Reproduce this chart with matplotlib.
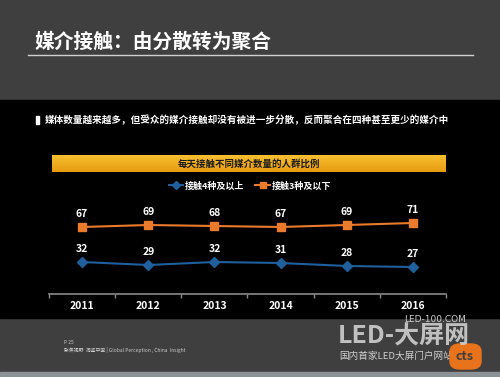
import matplotlib.pyplot as plt
from matplotlib.patches import Rectangle, FancyBboxPatch
from matplotlib.colors import LinearSegmentedColormap
import numpy as np

plt.rcParams['font.family'] = ['Noto Sans CJK SC', 'DejaVu Sans']

years = ['2011', '2012', '2013', '2014', '2015', '2016']
four_plus = [32, 29, 32, 31, 28, 27]
three_less = [67, 69, 68, 67, 69, 71]
series_names = ['接触4种及以上', '接触3种及以下']

W, H = 500, 377


def fx(px):
    return px / W


def fy(py):
    return 1 - py / H


fig = plt.figure(figsize=(5, 3.77), dpi=100)
fig.patch.set_facecolor('#3f3f3f')

# background bands
fig.add_artist(Rectangle((0, fy(318)), 1, fy(100) - fy(318),
                         transform=fig.transFigure, color='black', zorder=0))
fig.add_artist(Rectangle((0, 0), 1, fy(372),
                         transform=fig.transFigure, color='#8c9396', zorder=0))

# title
fig.text(fx(35), fy(42), '媒介接触：由分散转为聚合', color='white',
         fontsize=14.2, fontweight='bold', va='center', ha='left')
fig.add_artist(plt.Line2D([fx(28), fx(473)], [fy(55), fy(55)],
                          transform=fig.transFigure, color='#d0d0d0', lw=1))

# subtitle
fig.add_artist(Rectangle((fx(36), fy(124)), fx(2.5), fy(116) - fy(124),
                         transform=fig.transFigure, color='white'))
fig.text(fx(45), fy(120),
         '媒体数量越来越多，但受众的媒介接触却没有被进一步分散，反而聚合在四种甚至更少的媒介中',
         color='white', fontsize=6.9, fontweight='bold', va='center', ha='left')

# gold banner with gradient
grad = LinearSegmentedColormap.from_list('g', ['#f7c232', '#e89a10'])
bax = fig.add_axes([fx(52), fy(172), fx(446) - fx(52), fy(155) - fy(172)])
bax.imshow(np.linspace(0, 1, 50).reshape(-1, 1), aspect='auto', cmap=grad,
           extent=[0, 1, 0, 1])
bax.set_axis_off()
bax.text(0.5, 0.5, '每天接触不同媒介数量的人群比例', color='#1a1a1a',
         fontsize=6.8, fontweight='bold', ha='center', va='center',
         transform=bax.transAxes)

# main chart
ax = fig.add_axes([fx(49), fy(294), fx(446) - fx(49), fy(194) - fy(294)])
ax.set_facecolor('black')
x = np.arange(len(years))
blue = '#1f5f9c'
orange = '#ea7a2c'
l1, = ax.plot(x, four_plus, color=blue, lw=1.5, marker='D', ms=5,
              label=series_names[0])
l2, = ax.plot(x, three_less, color=orange, lw=1.5, marker='s', ms=5.5,
              label=series_names[1])
for i in x:
    ax.text(i, three_less[i] + 8, str(three_less[i]), color='white',
            fontsize=7.5, fontweight='bold', ha='center', va='bottom')
    ax.text(i, four_plus[i] + 8, str(four_plus[i]), color='white',
            fontsize=7.5, fontweight='bold', ha='center', va='bottom')

ax.set_xlim(-0.5, 5.5)
ax.set_ylim(0, 100)
ax.set_xticks(x)
ax.set_xticklabels(years, color='white', fontsize=7.5, fontweight='bold')
ax.set_xticks(np.arange(-0.5, 6, 1), minor=True)
ax.tick_params(axis='x', which='major', length=0, pad=5)
ax.tick_params(axis='x', which='minor', length=3, color='#8a8a8a', width=1)
ax.set_yticks([])
for s in ['top', 'left', 'right']:
    ax.spines[s].set_visible(False)
ax.spines['bottom'].set_color('#8a8a8a')
ax.spines['bottom'].set_linewidth(1.2)

leg = fig.legend(handles=[l1, l2], loc='center', ncol=2,
                 bbox_to_anchor=(fx(250), fy(186)), frameon=False,
                 fontsize=6.5, handlelength=1.6, handletextpad=0.2,
                 columnspacing=1.2, markerscale=0.8)
for t in leg.get_texts():
    t.set_color('white')
    t.set_fontweight('bold')

# footer
fig.text(fx(64), fy(343), 'P 25', color='#cccccc', fontsize=3.5,
         va='center', ha='left')
fig.text(fx(64), fy(350), '聚焦视野  洞鉴中国 | Global Perception , China  Insight',
         color='#cccccc', fontsize=3.5, va='center', ha='left')
fig.text(fx(404), fy(319), 'LED-100.COM', color='#cfcfcf', fontsize=6.5,
         va='center', ha='left', family=['DejaVu Sans'])
fig.text(fx(338), fy(336), 'LED-大屏网', color='#d8d8d8', fontsize=18,
         fontweight='bold', va='center', ha='left', alpha=0.85)
fig.add_artist(FancyBboxPatch((fx(450), fy(369)), fx(31), fy(344) - fy(369),
                              boxstyle='round,pad=0,rounding_size=0.02',
                              transform=fig.transFigure, color='#e8731a',
                              zorder=3))
fig.text(fx(339), fy(356), '国内首家LED大屏门户网站', color='#d0d0d0',
         fontsize=6.9, va='center', ha='left', zorder=2)
fig.text(fx(465), fy(357), 'cts', color='#3f3f3f', fontsize=9,
         fontweight='bold', va='center', ha='center', zorder=4)

fig.savefig('out.png', dpi=100, facecolor=fig.get_facecolor())
